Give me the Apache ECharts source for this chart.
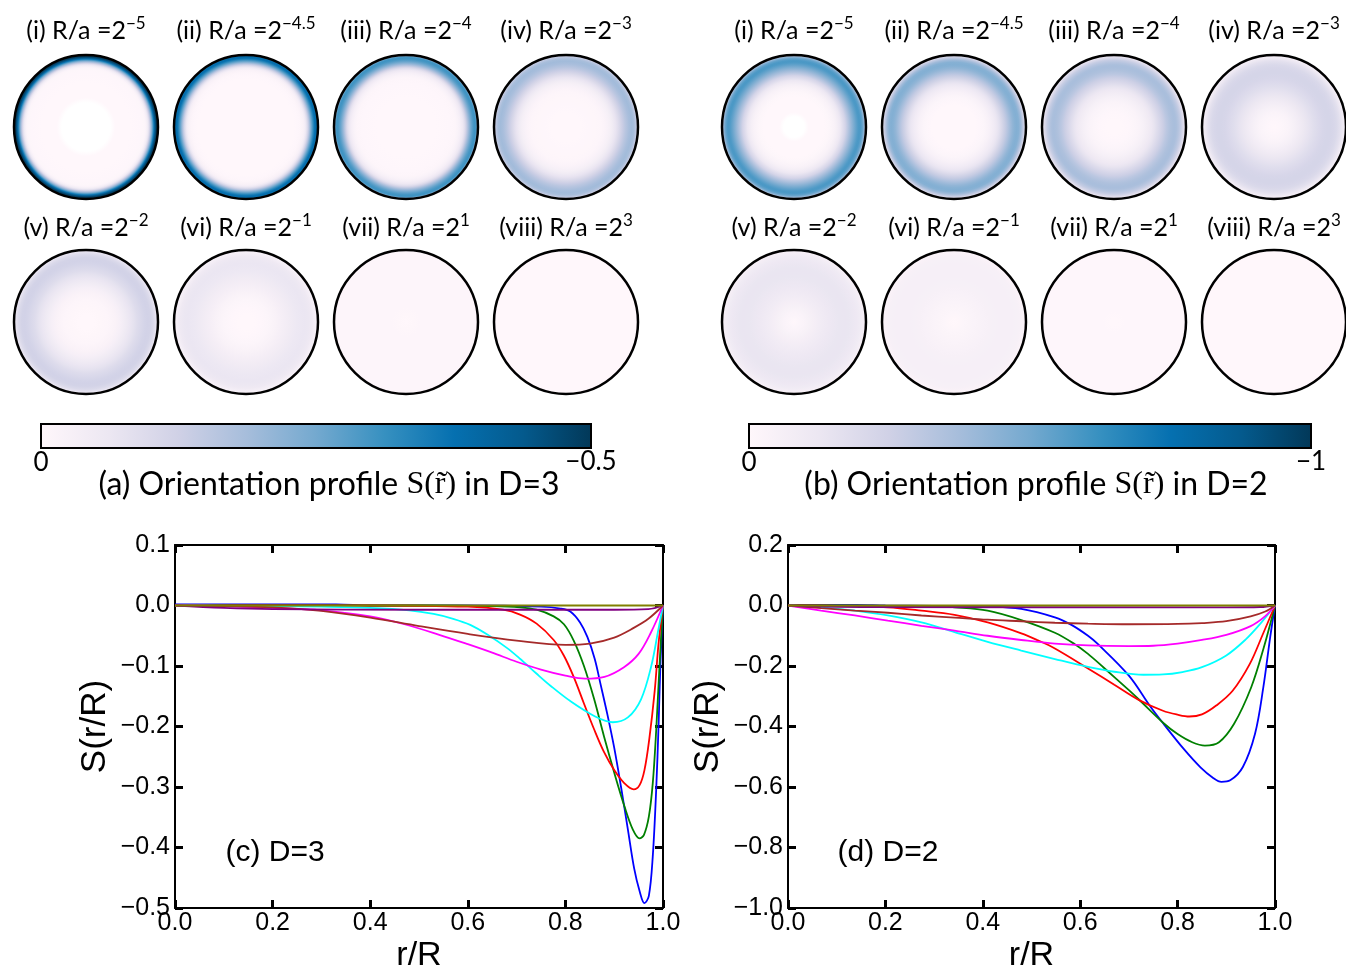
<!DOCTYPE html>
<html>
<head>
<meta charset="utf-8">
<script src="https://cdn.jsdelivr.net/npm/echarts@6/dist/echarts.min.js"></script>
<style>
html,body{margin:0;padding:0;background:#ffffff;}
#main{width:1346px;height:968px;}
</style>
</head>
<body>
<div id="main"></div>
<script>
// ---------------- DATA ----------------
const CIRCLE_NUMERALS = ['(i)', '(ii)', '(iii)', '(iv)', '(v)', '(vi)', '(vii)', '(viii)'];
const CIRCLE_EXPONENTS = ['\u22125', '\u22124.5', '\u22124', '\u22123', '\u22122', '\u22121', '1', '3'];
const SERIES_NAMES = ['R/a=2^-5', 'R/a=2^-4.5', 'R/a=2^-4', 'R/a=2^-3', 'R/a=2^-2', 'R/a=2^-1', 'R/a=2^1', 'R/a=2^3'];
const SERIES_COLORS = ['#0000ff', '#008000', '#ff0000', '#00ffff', '#ff00ff', '#a52a2a', '#800080', '#808000'];
const PUBU = ['#fff7fb', '#ece7f2', '#d0d1e6', '#a6bddb', '#74a9cf', '#3690c0', '#0570b0', '#045a8d', '#023858'];
const COLORBAR_TICKS_A = ['0', '\u22120.5'];
const COLORBAR_TICKS_B = ['0', '\u22121'];
const COLOR_MIN_A = -0.5;
const COLOR_MIN_B = -1.0;
const X_AXIS_RANGE = [0, 1, 0.2];
const Y_AXIS_RANGE_C = [-0.5, 0.1, 0.1];
const Y_AXIS_RANGE_D = [-1.0, 0.2, 0.2];

// D=3 profiles S(r/R): [r/R, S]
const D3_BLUE = [[0,0.002],[0.33,0.002],[0.4,0],[0.6,0],[0.75,-0.002],[0.79,-0.005],[0.81,-0.01],[0.83,-0.028],[0.845,-0.052],[0.86,-0.088],[0.872,-0.13],[0.886,-0.18],[0.9,-0.235],[0.914,-0.3],[0.928,-0.37],[0.941,-0.435],[0.952,-0.472],[0.962,-0.492],[0.971,-0.48],[0.979,-0.415],[0.986,-0.305],[0.991,-0.196],[0.995,-0.09],[1,0]];
const D3_GREEN = [[0,0],[0.5,0],[0.65,-0.001],[0.707,-0.003],[0.741,-0.007],[0.776,-0.018],[0.797,-0.031],[0.817,-0.058],[0.838,-0.1],[0.859,-0.155],[0.879,-0.216],[0.9,-0.276],[0.921,-0.332],[0.938,-0.37],[0.952,-0.385],[0.961,-0.379],[0.971,-0.349],[0.979,-0.294],[0.986,-0.207],[0.993,-0.097],[1,0]];
const D3_RED = [[0,0],[0.4,0],[0.6,-0.002],[0.672,-0.007],[0.707,-0.015],[0.741,-0.03],[0.776,-0.057],[0.797,-0.083],[0.817,-0.118],[0.838,-0.162],[0.859,-0.205],[0.879,-0.242],[0.9,-0.272],[0.921,-0.294],[0.94,-0.304],[0.952,-0.297],[0.962,-0.272],[0.972,-0.22],[0.983,-0.141],[0.991,-0.062],[1,0]];
const D3_CYAN = [[0,0],[0.2,-0.001],[0.3,-0.002],[0.4,-0.004],[0.48,-0.008],[0.53,-0.014],[0.57,-0.022],[0.605,-0.032],[0.64,-0.048],[0.68,-0.07],[0.707,-0.088],[0.74,-0.112],[0.77,-0.133],[0.81,-0.158],[0.86,-0.183],[0.897,-0.193],[0.928,-0.185],[0.955,-0.155],[0.976,-0.1],[0.99,-0.042],[1,0]];
const D3_MAGENTA = [[0,0],[0.1,-0.001],[0.2,-0.004],[0.3,-0.008],[0.4,-0.018],[0.47,-0.031],[0.54,-0.048],[0.6,-0.064],[0.65,-0.078],[0.7,-0.093],[0.75,-0.106],[0.8,-0.116],[0.84,-0.121],[0.88,-0.118],[0.92,-0.102],[0.95,-0.08],[0.975,-0.045],[1,0]];
const D3_BROWN = [[0,0],[0.1,-0.001],[0.2,-0.003],[0.3,-0.009],[0.4,-0.02],[0.5,-0.034],[0.6,-0.047],[0.7,-0.058],[0.8,-0.065],[0.85,-0.063],[0.9,-0.053],[0.94,-0.037],[0.97,-0.022],[1,0]];
const D3_PURPLE = [[0,0],[0.1,-0.004],[0.2,-0.006],[0.5,-0.007],[0.9,-0.007],[0.97,-0.006],[1,0]];
const D3_OLIVE = [[0,0],[0.5,0],[1,0]];

// D=2 profiles S(r/R): [r/R, S]
const D2_BLUE = [[0,0.002],[0.14,0.002],[0.2,0],[0.3,-0.001],[0.41,-0.003],[0.479,-0.011],[0.548,-0.039],[0.582,-0.064],[0.616,-0.1],[0.636,-0.127],[0.7,-0.232],[0.744,-0.334],[0.772,-0.393],[0.813,-0.475],[0.847,-0.535],[0.873,-0.57],[0.89,-0.583],[0.908,-0.578],[0.934,-0.534],[0.959,-0.424],[0.976,-0.271],[0.99,-0.106],[1,0]];
const D2_GREEN = [[0,0],[0.2,-0.001],[0.3,-0.003],[0.342,-0.006],[0.41,-0.017],[0.479,-0.048],[0.548,-0.09],[0.589,-0.128],[0.616,-0.16],[0.648,-0.205],[0.7,-0.28],[0.72,-0.31],[0.772,-0.39],[0.8,-0.425],[0.83,-0.452],[0.856,-0.463],[0.885,-0.452],[0.916,-0.391],[0.951,-0.271],[0.977,-0.139],[1,0]];
const D2_RED = [[0,0],[0.1,-0.001],[0.205,-0.006],[0.274,-0.017],[0.342,-0.031],[0.41,-0.056],[0.479,-0.092],[0.513,-0.115],[0.548,-0.142],[0.616,-0.208],[0.67,-0.262],[0.72,-0.312],[0.77,-0.348],[0.8,-0.361],[0.824,-0.367],[0.85,-0.36],[0.88,-0.33],[0.913,-0.282],[0.948,-0.194],[0.975,-0.095],[1,0]];
const D2_CYAN = [[0,0],[0.07,-0.006],[0.137,-0.017],[0.205,-0.033],[0.274,-0.056],[0.342,-0.088],[0.41,-0.12],[0.479,-0.149],[0.548,-0.177],[0.616,-0.203],[0.67,-0.219],[0.73,-0.229],[0.77,-0.228],[0.81,-0.22],[0.85,-0.204],[0.9,-0.165],[0.94,-0.112],[0.97,-0.06],[1,0]];
const D2_MAGENTA = [[0,0],[0.068,-0.017],[0.137,-0.033],[0.205,-0.05],[0.274,-0.067],[0.342,-0.083],[0.41,-0.1],[0.479,-0.114],[0.548,-0.126],[0.616,-0.132],[0.7,-0.134],[0.75,-0.133],[0.8,-0.126],[0.85,-0.114],[0.9,-0.097],[0.95,-0.068],[0.98,-0.035],[1,0]];
const D2_BROWN = [[0,0],[0.068,-0.009],[0.137,-0.017],[0.205,-0.024],[0.274,-0.033],[0.342,-0.04],[0.41,-0.047],[0.479,-0.052],[0.548,-0.057],[0.616,-0.06],[0.7,-0.062],[0.8,-0.061],[0.85,-0.058],[0.9,-0.052],[0.95,-0.036],[0.98,-0.02],[1,0]];
const D2_PURPLE = [[0,0],[0.05,-0.003],[0.15,-0.005],[0.9,-0.006],[0.97,-0.005],[1,0]];
const D2_OLIVE = [[0,0],[0.5,0],[1,0]];

const D3_SERIES = [D3_BLUE, D3_GREEN, D3_RED, D3_CYAN, D3_MAGENTA, D3_BROWN, D3_PURPLE, D3_OLIVE];
const D2_SERIES = [D2_BLUE, D2_GREEN, D2_RED, D2_CYAN, D2_MAGENTA, D2_BROWN, D2_PURPLE, D2_OLIVE];

// ---------------- HELPERS ----------------
const SANS = '"Liberation Sans", Arial, sans-serif';
const LABEL_FONT = 'Lato, "Open Sans", sans-serif';
const SERIF = '"Liberation Serif", "DejaVu Serif", serif';

function hexRgb(h) { return [parseInt(h.slice(1,3),16), parseInt(h.slice(3,5),16), parseInt(h.slice(5,7),16)]; }
function cmap(t) {
  if (t < 0) return '#ffffff';
  t = Math.min(1, t);
  const p = t * (PUBU.length - 1);
  const i = Math.min(PUBU.length - 2, Math.floor(p));
  const f = p - i;
  const a = hexRgb(PUBU[i]), b = hexRgb(PUBU[i + 1]);
  const c = a.map((v, k) => Math.round(v + (b[k] - v) * f));
  return 'rgb(' + c.join(',') + ')';
}
function fmtTick(v) {
  const a = Math.abs(v) < 1e-9 ? 0 : v;
  return (a < 0 ? '\u2212' : '') + Math.abs(a).toFixed(1);
}
function centerText(x, y, text, size, family) {
  return { type: 'text', x: x, y: y, style: { text: text, fontSize: size, fontFamily: family, fill: '#000',
    textAlign: 'center', textVerticalAlign: 'middle', align: 'center', verticalAlign: 'middle' } };
}

// ---------------- LAYOUT ----------------
const PANEL_CX = [[86, 246, 406, 566], [794, 954, 1114, 1274]];
const ROW_CY = [127, 322];
const ROW_LABEL_Y = [31, 228];
const CIRCLE_R = 72;

const graphics = [];
function addPanel(p, seriesList, smin, cbX, cbW, ticks, captionTag, captionD, captionCx) {
  for (let k = 0; k < 8; k++) {
    const cx = PANEL_CX[p][k % 4];
    const cy = ROW_CY[Math.floor(k / 4)];
    const stops = seriesList[k].map(([r, s]) => ({ offset: Math.max(0, Math.min(1, r)), color: cmap(s / smin) }));
    graphics.push({
      type: 'circle', shape: { cx: cx, cy: cy, r: CIRCLE_R },
      style: { fill: new echarts.graphic.RadialGradient(0.5, 0.5, 0.5, stops), stroke: '#000', lineWidth: 2.5 }
    });
    graphics.push({
      type: 'text', x: cx, y: ROW_LABEL_Y[Math.floor(k / 4)],
      style: {
        text: '{b|' + CIRCLE_NUMERALS[k] + ' R/a =2}{s|' + CIRCLE_EXPONENTS[k] + '}',
        textAlign: 'center', textVerticalAlign: 'middle', align: 'center', verticalAlign: 'middle',
        rich: {
          b: { fontSize: 25, fontFamily: LABEL_FONT, fill: '#000', lineHeight: 32 },
          s: { fontSize: 17, fontFamily: LABEL_FONT, fill: '#000', lineHeight: 17, verticalAlign: 'top' }
        }
      }
    });
  }
  const cbStops = PUBU.map((c, i) => ({ offset: i / (PUBU.length - 1), color: c }));
  graphics.push({
    type: 'rect', shape: { x: cbX, y: 424, width: cbW, height: 24 },
    style: { fill: new echarts.graphic.LinearGradient(0, 0, 1, 0, cbStops), stroke: '#000', lineWidth: 2 }
  });
  graphics.push(centerText(cbX, 463, ticks[0], 26, LABEL_FONT));
  graphics.push(centerText(cbX + cbW, 462, ticks[1], 26, LABEL_FONT));
  graphics.push({
    type: 'text', x: captionCx, y: 485,
    style: {
      text: '{t|' + captionTag + ' Orientation profile }{m|S(r\u0303)}{t| in D=' + captionD + '}',
      textAlign: 'center', textVerticalAlign: 'middle', align: 'center', verticalAlign: 'middle',
      rich: {
        t: { fontSize: 32, fontFamily: LABEL_FONT, fill: '#000' },
        m: { fontSize: 32, fontFamily: SERIF, fill: '#000' }
      }
    }
  });
}
addPanel(0, D3_SERIES, COLOR_MIN_A, 41, 550, COLORBAR_TICKS_A, '(a)', 3, 329);
addPanel(1, D2_SERIES, COLOR_MIN_B, 749, 562, COLORBAR_TICKS_B, '(b)', 2, 1036);

graphics.push(centerText(275, 853, '(c) D=3', 30, SANS));
graphics.push(centerText(888, 853, '(d) D=2', 30, SANS));

// ---------------- AXES ----------------
function xAx(grid, position, main) {
  return {
    type: 'value', gridIndex: grid, position: position,
    min: X_AXIS_RANGE[0], max: X_AXIS_RANGE[1], interval: X_AXIS_RANGE[2],
    axisLine: { show: true, onZero: false, lineStyle: { color: '#000', width: 2 } },
    axisTick: { show: true, inside: true, length: 8, lineStyle: { color: '#000', width: 3 } },
    axisLabel: { show: main, margin: 3, fontSize: 25, fontFamily: SANS, color: '#000', formatter: fmtTick },
    splitLine: { show: false },
    name: main ? 'r/R' : '', nameLocation: 'middle', nameGap: 31,
    nameTextStyle: { fontSize: 34, fontFamily: SANS, color: '#000' }
  };
}
function yAx(grid, position, main, range) {
  return {
    type: 'value', gridIndex: grid, position: position,
    min: range[0], max: range[1], interval: range[2],
    axisLine: { show: true, onZero: false, lineStyle: { color: '#000', width: 2 } },
    axisTick: { show: true, inside: true, length: 8, lineStyle: { color: '#000', width: 3 } },
    axisLabel: { show: main, margin: 5, fontSize: 25, fontFamily: SANS, color: '#000', formatter: fmtTick },
    splitLine: { show: false },
    name: main ? 'S(r/R)' : '', nameLocation: 'middle', nameGap: 62, nameRotate: 90,
    nameTextStyle: { fontSize: 35, fontFamily: SANS, color: '#000' }
  };
}

const series = [];
[D3_SERIES, D2_SERIES].forEach((list, g) => {
  list.forEach((data, k) => {
    series.push({
      type: 'line', name: SERIES_NAMES[k], xAxisIndex: g * 2, yAxisIndex: g * 2,
      data: data, showSymbol: false, symbol: 'none', smooth: 0.35,
      lineStyle: { color: SERIES_COLORS[k], width: 1.8 }, itemStyle: { color: SERIES_COLORS[k] },
      animation: false, silent: true, z: 2 + k
    });
  });
});

const option = {
  backgroundColor: '#ffffff',
  animation: false,
  grid: [
    { left: 175, top: 545, width: 488, height: 363, containLabel: false, outerBoundsMode: 'none' },
    { left: 788, top: 545, width: 487, height: 363, containLabel: false, outerBoundsMode: 'none' }
  ],
  xAxis: [xAx(0, 'bottom', true), xAx(0, 'top', false), xAx(1, 'bottom', true), xAx(1, 'top', false)],
  yAxis: [yAx(0, 'left', true, Y_AXIS_RANGE_C), yAx(0, 'right', false, Y_AXIS_RANGE_C), yAx(1, 'left', true, Y_AXIS_RANGE_D), yAx(1, 'right', false, Y_AXIS_RANGE_D)],
  series: series,
  graphic: { elements: graphics }
};

const chart = echarts.init(document.getElementById('main'));
chart.setOption(option);
</script>
</body>
</html>
